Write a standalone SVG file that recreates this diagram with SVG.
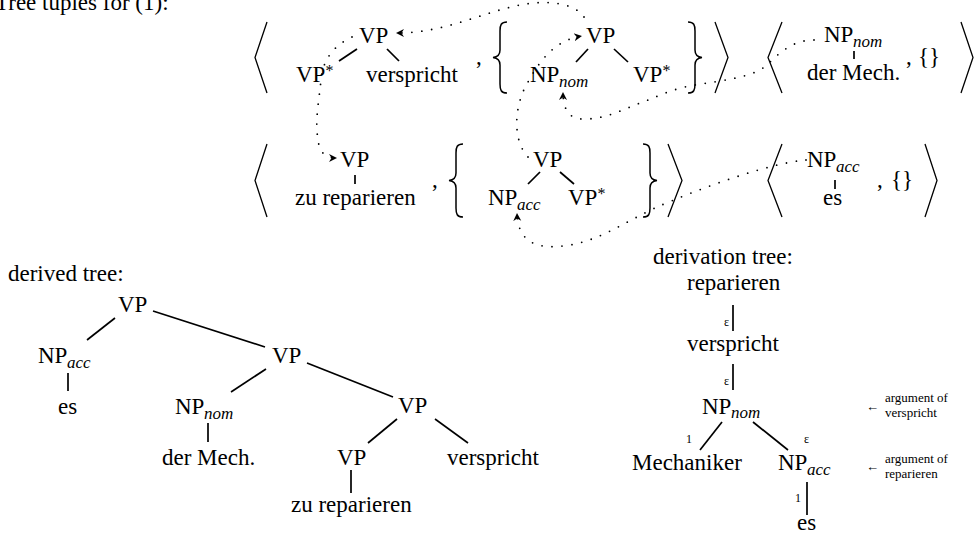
<svg xmlns="http://www.w3.org/2000/svg" width="975" height="540" viewBox="0 0 975 540">
<defs>
<style>
text{font-family:"Liberation Serif","Times New Roman",serif;font-size:23px;fill:#000}
.sub{font-style:italic;font-size:17px}
.sm{font-size:13px}
.lab{font-size:12px}
.e{stroke:#000;stroke-width:1.7;fill:none}
.br{stroke:#000;stroke-width:1.3;fill:none}
.bc{stroke:#000;stroke-width:1.5;fill:none}
.dot{stroke:#000;stroke-width:1.8;fill:none;stroke-linecap:round;stroke-dasharray:0 10}
</style>
<marker id="ah" markerUnits="userSpaceOnUse" markerWidth="10" markerHeight="10" refX="8" refY="4" orient="auto" viewBox="0 0 10 8">
<path d="M0,0 L8,4 L0,8 L2.5,4 Z" fill="#000"/>
</marker>
</defs>

<text x="-5" y="10">Tree tuples for (1):</text>

<!-- Brackets and punctuation -->
<g id="brackets">
<polyline class="br" points="267,22 255,57.5 267,93"/>
<polyline class="br" points="715,22 728,57.5 715,93"/>
<polyline class="br" points="782,22 768,57.5 782,93"/>
<polyline class="br" points="961,22 973,57.5 961,93"/>
<path class="bc" d="M507,22 C501,22 500,25 500,31 L500,50 C500,55 498,57 493,57.5 C498,58 500,60 500,65 L500,84 C500,90 501,93 507,93"/>
<path class="bc" d="M688,22 C694,22 695,25 695,31 L695,50 C695,55 697,57 702,57.5 C697,58 695,60 695,65 L695,84 C695,90 694,93 688,93"/>
<polyline class="br" points="267,144 255,180.5 267,217"/>
<polyline class="br" points="668,144 682,180.5 668,217"/>
<polyline class="br" points="782,144 768,180.5 782,217"/>
<polyline class="br" points="925,144 937,180.5 925,217"/>
<path class="bc" d="M463,144 C457,144 456,147 456,153 L456,173 C456,178 454,180 449,180.5 C454,181 456,183 456,188 L456,208 C456,214 457,217 463,217"/>
<path class="bc" d="M643,144 C649,144 650,147 650,153 L650,173 C650,178 652,180 657,180.5 C652,181 650,183 650,188 L650,208 C650,214 649,217 643,217"/>
<text x="476" y="64">,</text>
<text x="906" y="64">,</text>
<text x="918" y="64">{}</text>
<text x="432" y="187">,</text>
<text x="877" y="187">,</text>
<text x="891" y="187">{}</text>
</g>

<!-- Tuple 1, upper -->
<g id="t1-vp"><text x="359" y="43">VP</text></g>
<g id="t1-vpfoot"><text x="296" y="82">VP<tspan font-size="16" dy="-6">*</tspan></text></g>
<g id="t1-verspricht"><text x="366" y="82">verspricht</text></g>
<!-- Tuple 2, upper -->
<g id="t2-vp"><text x="586" y="43">VP</text></g>
<g id="t2-npnom"><text x="530" y="82">NP</text><text class="sub" x="559" y="87">nom</text></g>
<g id="t2-vpfoot"><text x="633" y="82">VP<tspan font-size="16" dy="-6">*</tspan></text></g>
<!-- Tuple 3, upper -->
<g id="t3-npnom"><text x="824" y="42">NP</text><text class="sub" x="853" y="47">nom</text></g>
<g id="t3-dermech"><text x="807" y="80">der Mech.</text></g>
<!-- Tuple 1, lower -->
<g id="t4-vp"><text x="340" y="167">VP</text></g>
<g id="t4-zurep"><text x="295" y="205">zu reparieren</text></g>
<!-- Tuple 2, lower -->
<g id="t5-vp"><text x="533" y="167">VP</text></g>
<g id="t5-npacc"><text x="488" y="205">NP</text><text class="sub" x="517" y="210">acc</text></g>
<g id="t5-vpfoot"><text x="568" y="205">VP<tspan font-size="16" dy="-6">*</tspan></text></g>
<!-- Tuple 3, lower -->
<g id="t6-npacc"><text x="807" y="167">NP</text><text class="sub" x="836" y="172">acc</text></g>
<g id="t6-es"><text x="823" y="205">es</text></g>

<!-- Derived tree -->
<text x="8" y="281">derived tree:</text>
<g id="d-vp1"><text x="118" y="312">VP</text></g>
<g id="d-npacc"><text x="38" y="363">NP</text><text class="sub" x="67" y="368">acc</text></g>
<g id="d-es"><text x="58" y="414">es</text></g>
<g id="d-vp2"><text x="272" y="363">VP</text></g>
<g id="d-npnom"><text x="175" y="414">NP</text><text class="sub" x="204" y="419">nom</text></g>
<g id="d-dermech"><text x="162" y="465">der Mech.</text></g>
<g id="d-vp3"><text x="398" y="413">VP</text></g>
<g id="d-vp4"><text x="337" y="465">VP</text></g>
<g id="d-verspricht"><text x="447" y="465">verspricht</text></g>
<g id="d-zurep"><text x="291" y="512">zu reparieren</text></g>

<!-- Derivation tree -->
<text x="653" y="264">derivation tree:</text>
<g id="v-rep"><text x="687" y="290">reparieren</text></g>
<g id="v-versp"><text x="687" y="351">verspricht</text></g>
<g id="v-npnom"><text x="702" y="414">NP</text><text class="sub" x="731" y="418">nom</text></g>
<g id="v-mech"><text x="632" y="470">Mechaniker</text></g>
<g id="v-npacc"><text x="778" y="470">NP</text><text class="sub" x="807" y="475">acc</text></g>
<g id="v-es"><text x="797" y="530">es</text></g>
<g id="v-labels">
<text class="lab" x="724" y="326">ε</text>
<text class="lab" x="724" y="385">ε</text>
<text class="lab" x="686" y="443">1</text>
<text class="lab" x="804" y="443">ε</text>
<text class="lab" x="795" y="502">1</text>
</g>
<g id="note1"><text class="sm" x="866" y="411">←</text><text class="sm" x="885" y="402">argument of</text><text class="sm" x="885" y="417">verspricht</text></g>
<g id="note2"><text class="sm" x="866" y="471">←</text><text class="sm" x="885" y="463">argument of</text><text class="sm" x="885" y="478">reparieren</text></g>

<!-- Connectors -->
<g id="connectors">
<line class="e" x1="357" y1="49" x2="339" y2="61"/>
<line class="e" x1="387" y1="49" x2="399" y2="61"/>
<line class="e" x1="588" y1="49" x2="576" y2="62"/>
<line class="e" x1="614" y1="49" x2="628" y2="62"/>
<line class="e" x1="854" y1="51" x2="854" y2="59"/>
<line class="e" x1="355" y1="175" x2="355" y2="184"/>
<line class="e" x1="540" y1="172" x2="528" y2="184"/>
<line class="e" x1="560" y1="172" x2="574" y2="184"/>
<line class="e" x1="835" y1="180" x2="835" y2="189"/>

<line class="e" x1="115" y1="318" x2="87" y2="340"/>
<line class="e" x1="153" y1="311" x2="265" y2="347"/>
<line class="e" x1="68" y1="373" x2="68" y2="391"/>
<line class="e" x1="266" y1="369" x2="231" y2="392"/>
<line class="e" x1="307" y1="363" x2="393" y2="397"/>
<line class="e" x1="208" y1="423" x2="208" y2="442"/>
<line class="e" x1="397" y1="419" x2="368" y2="443"/>
<line class="e" x1="435" y1="419" x2="468" y2="443"/>
<line class="e" x1="351" y1="470" x2="351" y2="493"/>

<line class="e" x1="733" y1="305" x2="733" y2="331"/>
<line class="e" x1="733" y1="364" x2="733" y2="390"/>
<line class="e" x1="722" y1="422" x2="700" y2="450"/>
<line class="e" x1="753" y1="422" x2="788" y2="450"/>
<line class="e" x1="807" y1="482" x2="807" y2="515"/>

<path class="dot" marker-end="url(#ah)" d="M584,17 C574,2 545,0 520,5 C480,13 445,33 396,33"/>
<path class="dot" marker-end="url(#ah)" d="M352,37 C335,45 323,58 321,80 C319,100 316,115 317,130 C318,150 322,158 337,158"/>
<path class="dot" marker-end="url(#ah)" d="M528,157 C512,140 514,105 528,82 C540,60 555,40 582,36"/>
<path class="dot" marker-end="url(#ah)" d="M814,40 C795,40 782,50 768,64 C755,77 725,80 695,85 C670,89 655,98 640,103 C622,110 605,119 585,119 C568,120 563,108 563,92"/>
<path class="dot" marker-end="url(#ah)" d="M806,160 C770,163 700,188 655,208 C625,222 600,240 570,245 C540,250 518,245 517,213"/>
</g>
</svg>
